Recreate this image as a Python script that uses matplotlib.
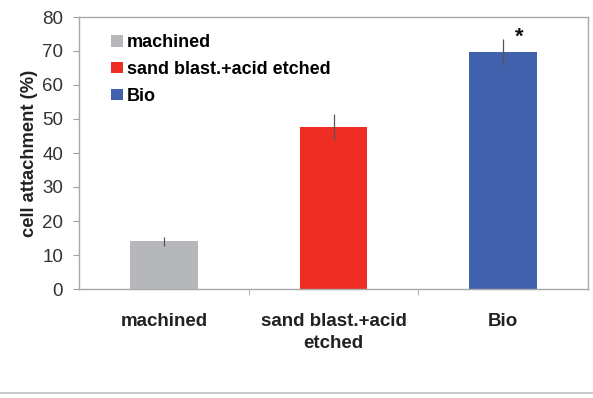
import matplotlib
matplotlib.use("Agg")
import matplotlib.pyplot as plt
from matplotlib.lines import Line2D
import numpy as np

categories = ["machined", "sand blast.+acid\netched", "Bio"]
legend_labels = ["machined", "sand blast.+acid etched", "Bio"]
values = [14.0, 47.7, 69.8]
errors = [1.4, 3.8, 3.6]
colors = ["#b5b7ba", "#ee2e25", "#4261ad"]
yticks = [0, 10, 20, 30, 40, 50, 60, 70, 80]

plt.rcParams['font.family'] = ['Liberation Sans', 'DejaVu Sans']

fig = plt.figure(figsize=(5.93, 3.98), dpi=100)
ax = fig.add_axes([79/593, 1-289/398, (588-79)/593, (289-17)/398])

x = np.arange(len(categories))
bars = ax.bar(x, values, width=0.4, color=colors, yerr=errors,
              error_kw=dict(ecolor="#555555", elinewidth=0.9, capsize=0))

ax.set_xlim(-0.5, 2.5)
ax.set_ylim(0, 80)
ax.set_yticks(yticks)
ax.set_yticklabels([str(t) for t in yticks], fontsize=13.5, color="#333333")
ax.set_xticks(x)
ax.set_xticklabels(categories, fontsize=13.5, fontweight="bold", color="#222222",
                   linespacing=1.45)
ax.tick_params(axis="x", length=0, pad=17)
ax.set_xticks([0.5, 1.5], minor=True)
ax.tick_params(axis="x", which="minor", length=4.3, color="#a0a0a0", direction="out")
ax.tick_params(axis="y", length=4.3, color="#a0a0a0", direction="out", pad=7.2)
for s in ax.spines.values():
    s.set_color("#a8a8a8")
    s.set_linewidth(1.0)

ax.set_ylabel("cell attachment (%)", fontsize=13.2, fontweight="bold", color="#222222", labelpad=3)

ax.text(2.095, 74.0, "*", fontsize=16, fontweight="bold", ha="center", va="center", color="#111111")

leg = ax.legend(bars, legend_labels, loc="upper left", bbox_to_anchor=(0.063, 0.937),
                frameon=False, prop=dict(size=13, weight="bold"),
                handlelength=0.67, handleheight=0.6, handletextpad=0.22,
                labelspacing=0.55, borderaxespad=0, borderpad=0)

fig.add_artist(Line2D([0, 1], [1-393/398, 1-393/398], color="#c0c0c0", lw=1.2,
                      transform=fig.transFigure))

fig.savefig("out.png", dpi=100)
